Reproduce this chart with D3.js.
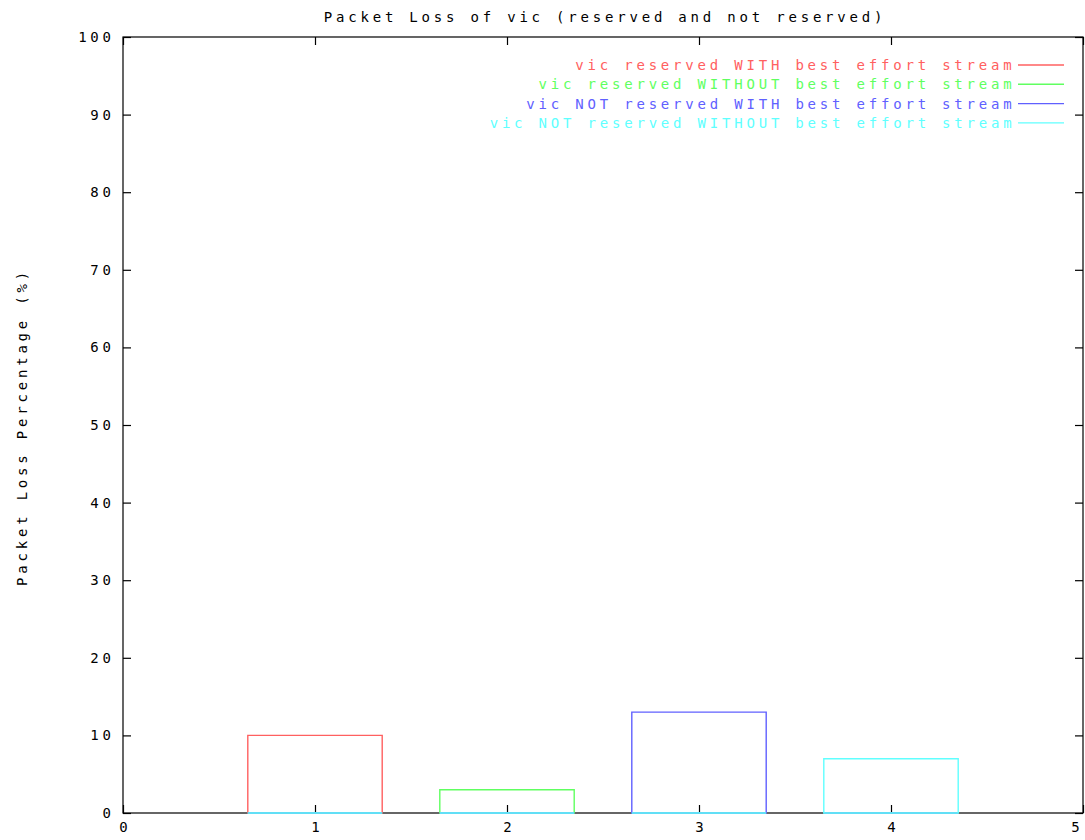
<!DOCTYPE html>
<html>
<head>
<meta charset="utf-8">
<script src="https://cdn.jsdelivr.net/npm/d3@7"></script>
<style>
  body { margin: 0; background: #fff; }
  svg text { font-family: "DejaVu Sans Mono", "Liberation Mono", monospace; font-size: 14px; letter-spacing: 3.8px; }
</style>
</head>
<body>
<div id="chart"></div>
<script>
// data
const positions = [1, 2, 3, 4];
const seriesNames = [
  "vic reserved WITH best effort stream",
  "vic reserved WITHOUT best effort stream",
  "vic NOT reserved WITH best effort stream",
  "vic NOT reserved WITHOUT best effort stream"
];
const reservedWith = [10, 0, 0, 0];
const reservedWithout = [0, 3, 0, 0];
const notReservedWith = [0, 0, 13, 0];
const notReservedWithout = [0, 0, 0, 7];
const seriesColors = ["#ff6060", "#60ff60", "#6060ff", "#60ffff"];
const xTicks = [0, 1, 2, 3, 4, 5];
const yTicks = [0, 10, 20, 30, 40, 50, 60, 70, 80, 90, 100];

const allSeries = [reservedWith, reservedWithout, notReservedWith, notReservedWithout];
const boxWidth = 0.7;

const width = 1085, height = 840;
const margin = {top: 37, right: 2, bottom: 27, left: 123};

const svg = d3.select("#chart").append("svg")
    .attr("width", width)
    .attr("height", height);

// scales
var x = d3.scaleLinear().domain([0, 5]).range([margin.left, width - margin.right]);
var y = d3.scaleLinear().domain([0, 100]).range([height - margin.bottom, margin.top]);

// title
svg.append("text")
  .attr("x", (x(0) + x(5)) / 2 + 2)
  .attr("y", 22)
  .attr("text-anchor", "middle")
  .text("Packet Loss of vic (reserved and not reserved)");

// y label
svg.append("text")
  .attr("text-anchor", "middle")
  .attr("transform", "translate(27," + ((y(0) + y(100)) / 2 + 2) + ")rotate(-90)")
  .text("Packet Loss Percentage (%)");

// axes (ticks inward)
const yLeft = svg.append("g")
  .attr("transform", "translate(" + x(0) + ",0)")
  .call(d3.axisLeft(y).tickValues(yTicks).tickSize(-8).tickPadding(12));
const yRight = svg.append("g")
  .attr("transform", "translate(" + x(5) + ",0)")
  .call(d3.axisRight(y).tickValues(yTicks).tickSize(-8).tickFormat(""));
const xBottom = svg.append("g")
  .attr("transform", "translate(0," + y(0) + ")")
  .call(d3.axisBottom(x).tickValues(xTicks).tickSize(-8).tickPadding(9).tickFormat(d3.format("d")));
const xTop = svg.append("g")
  .attr("transform", "translate(0," + y(100) + ")")
  .call(d3.axisTop(x).tickValues(xTicks).tickSize(-8).tickFormat(""));

[yLeft, yRight, xBottom, xTop].forEach(function(g) {
  g.select(".domain").remove();
  g.selectAll("line").attr("stroke", "#000").attr("stroke-width", 1.2);
  g.selectAll("text")
    .attr("fill", "#000")
    .style("font-family", "DejaVu Sans Mono, monospace")
    .style("font-size", "14px");
});
yLeft.selectAll("text").attr("dx", 3.8);
xBottom.selectAll("text").attr("dx", 1.9);
// keep the last label inside the picture
xBottom.selectAll(".tick").filter(function(d) { return d === 5; })
  .select("text").attr("text-anchor", "end").attr("dx", 0);

// border
svg.append("rect")
  .attr("x", x(0))
  .attr("y", y(100))
  .attr("width", x(5) - x(0))
  .attr("height", y(0) - y(100))
  .attr("fill", "none")
  .attr("stroke", "#000")
  .attr("stroke-width", 1.2);

// boxes (outline only, drawn in series order)
allSeries.forEach(function(values, i) {
  svg.append("g")
    .selectAll("path")
    .data(positions.map(function(p, j) { return [p, values[j]]; }))
    .enter()
    .append("path")
    .attr("d", function(d) {
      const x0 = x(d[0] - boxWidth / 2), x1 = x(d[0] + boxWidth / 2);
      return "M" + x0 + "," + y(0) + "V" + y(d[1]) + "H" + x1 + "V" + y(0) + "Z";
    })
    .attr("fill", "none")
    .attr("stroke", seriesColors[i])
    .attr("stroke-width", 1.4);
});

// legend
const legend = svg.append("g");
seriesNames.forEach(function(name, i) {
  const ly = 65 + i * 19.3;
  legend.append("text")
    .attr("x", 1015.5)
    .attr("y", ly + 5)
    .attr("text-anchor", "end")
    .attr("fill", seriesColors[i])
    .text(name);
  legend.append("line")
    .attr("x1", 1018).attr("x2", 1064)
    .attr("y1", ly).attr("y2", ly)
    .attr("stroke", seriesColors[i])
    .attr("stroke-width", 1.4);
});
</script>
</body>
</html>
